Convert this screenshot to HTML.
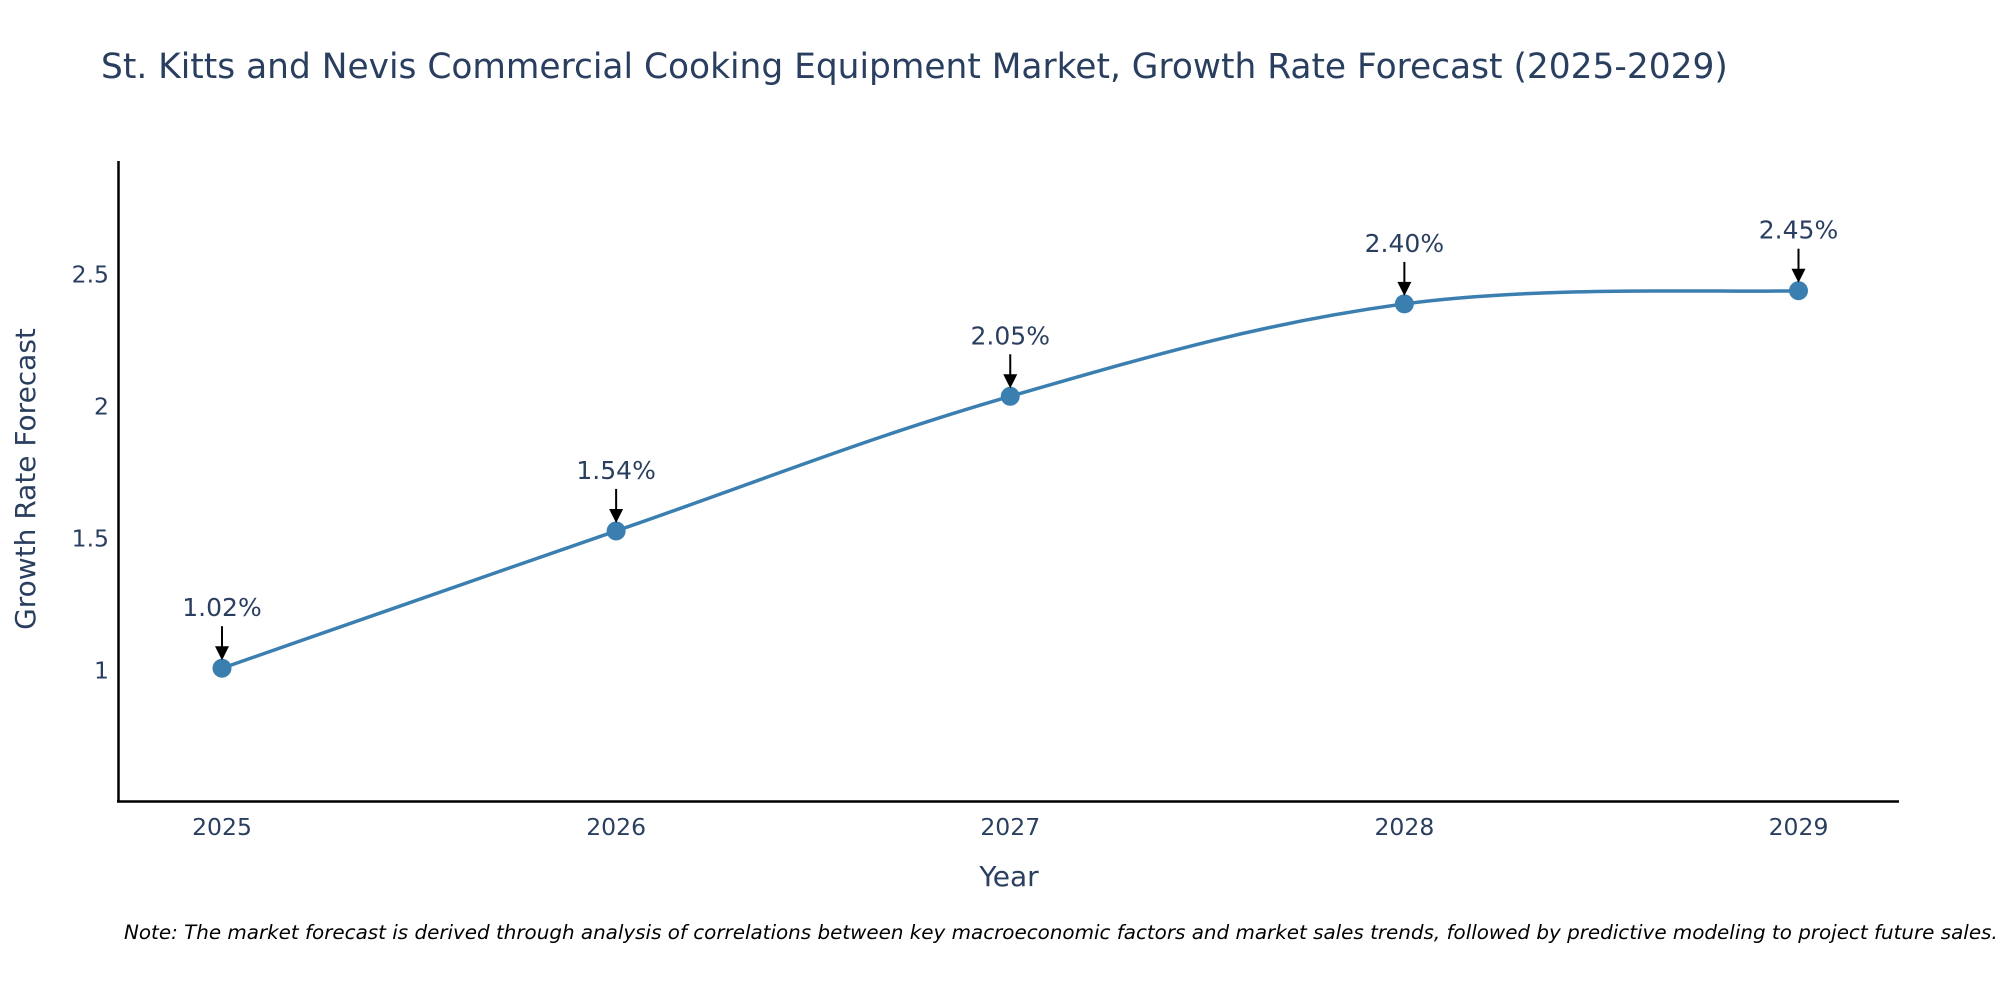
<!DOCTYPE html>
<html><head><meta charset="utf-8"><style>
html,body{margin:0;padding:0;background:#fff;}
svg{display:block;font-family:"DejaVu Sans","Liberation Sans",sans-serif;}
</style></head><body>
<svg id="chart" width="2000" height="1000" viewBox="0 0 2000 1000">
<text x="101" y="78" font-size="34.4" fill="#2a3f5f">St. Kitts and Nevis Commercial Cooking Equipment Market, Growth Rate Forecast (2025-2029)</text>
<g id="xticks"></g>
<g id="yticks"></g>
<line x1="118.5" y1="161" x2="118.5" y2="802" stroke="#000" stroke-width="2.5"/>
<line x1="117" y1="801.5" x2="1899" y2="801.5" stroke="#000" stroke-width="2.5"/>
<g id="series"></g>
<g id="annots"></g>
<text x="1009" y="886" font-size="28" fill="#2a3f5f" text-anchor="middle">Year</text>
<text transform="translate(35,479) rotate(-90)" font-size="28" fill="#2a3f5f" text-anchor="middle">Growth Rate Forecast</text>
<text x="124" y="939" font-size="19.9" font-style="italic" fill="#000">Note: The market forecast is derived through analysis of correlations between key macroeconomic factors and market sales trends, followed by predictive modeling to project future sales.</text>
</svg>
<script>
const years = [2025, 2026, 2027, 2028, 2029];
const rates = [1.02, 1.54, 2.05, 2.40, 2.45];
const labels = ["1.02%", "1.54%", "2.05%", "2.40%", "2.45%"];
const yTickVals = [1, 1.5, 2, 2.5];
const yTickText = ["1", "1.5", "2", "2.5"];

const NS = "http://www.w3.org/2000/svg";
const X0 = 222, X1 = 1798.5;
const xs = v => X0 + (v - years[0]) * (X1 - X0) / (years[years.length-1] - years[0]);
const Y1v = 673.5, Y25v = 277.5;
const ys = v => Y1v + (v - 1) * (Y25v - Y1v) / 1.5;

function mk(tag, attrs, parent){const e=document.createElementNS(NS,tag);for(const k in attrs)e.setAttribute(k,attrs[k]);parent.appendChild(e);return e;}

const xt = document.getElementById('xticks');
years.forEach(y=>{
  const t = mk('text',{x:xs(y),y:835,'font-size':23.5,fill:'#2a3f5f','text-anchor':'middle'},xt);
  
  
  t.textContent = y;
});
const yt = document.getElementById('yticks');
yTickVals.forEach((v,i)=>{
  const t = mk('text',{x:109,y:ys(v)+5,'font-size':23.5,fill:'#2a3f5f','text-anchor':'end'},yt);
  
  
  t.textContent = yTickText[i];
});

const pts = years.map((y,i)=>[xs(y), ys(rates[i])]);
let d = `M${pts[0][0]},${pts[0][1]}`;
const s = 0.18;
for(let i=0;i<pts.length-1;i++){
  const p0=pts[i-1]||pts[i], p1=pts[i], p2=pts[i+1], p3=pts[i+2]||pts[i+1];
  const c1=[p1[0]+(p2[0]-p0[0])*s, p1[1]+(p2[1]-p0[1])*s];
  const c2=[p2[0]-(p3[0]-p1[0])*s, p2[1]-(p3[1]-p1[1])*s];
  d += ` C${c1[0]},${c1[1]} ${c2[0]},${c2[1]} ${p2[0]},${p2[1]}`;
}
const ser = document.getElementById('series');
const path = mk('path',{d:d,fill:'none',stroke:'#3b7fb0','stroke-width':3.5},ser);


pts.forEach(p=>{
  const c = mk('circle',{cx:p[0],cy:p[1],r:9.5,fill:'#3b7fb0'},ser);
  
  
});

const an = document.getElementById('annots');
pts.forEach((p,i)=>{
  const l = mk('line',{x1:p[0],y1:p[1]-42,x2:p[0],y2:p[1]-20,stroke:'#000','stroke-width':2},an);
  
  
  const h = mk('path',{d:`M${p[0]-7},${p[1]-22} L${p[0]+7},${p[1]-22} L${p[0]},${p[1]-8} Z`,fill:'#000'},an);
  
  
  const t = mk('text',{x:p[0],y:p[1]-52,'font-size':25,fill:'#2a3f5f','text-anchor':'middle'},an);
  
  
  t.textContent = labels[i];
});
</script>
</body></html>
